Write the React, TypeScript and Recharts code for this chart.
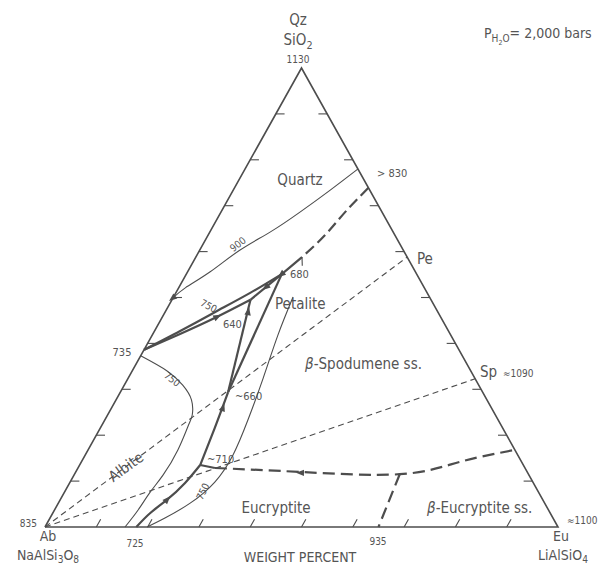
import React from "react";
import { ComposedChart, Line, Scatter, XAxis, YAxis, ReferenceLine } from "recharts";

// every point is a composition in weight percent: [SiO2, LiAlSiO4]; NaAlSi3O8 is the rest
type Comp = [number, number];

const outline: Comp[] = [[0, 0], [0, 100], [100, 0], [0, 0]];
const edgeTicks = [10, 20, 30, 40, 50, 60, 70, 80, 90];

const petaliteJoin: Comp[] = [[0, 0], [58.8, 41.2]];
const spodumeneJoin: Comp[] = [[0, 0], [32.3, 67.7]];

const iso900: Comp[] = [[78, 22], [73.4, 18.9], [68.6, 15.4], [64.3, 11.8], [60.3, 7.8], [55.6, 4.4], [52.1, 1.3], [49.9, 0]];
const qzPeDashed: Comp[] = [[73.9, 26.1], [68.6, 24.2], [63.6, 22.8], [58.8, 20.7]];
const qzPeSolid: Comp[] = [[58.8, 20.7], [55.1, 18.6]];
const qzPeMark: Comp[] = [[58.8, 20.7], [56.9, 21.7]];
const upper735to680: Comp[] = [[38.6, 0], [42.7, 5.0], [46.8, 9.7], [51.0, 14.5], [55.1, 18.6]];
const lower735to640: Comp[] = [[38.6, 0], [42.05, 5.3], [45.75, 10.6], [49.5, 15.3]];
const b640to680: Comp[] = [[49.5, 15.3], [55.1, 18.6]];
const b640to660: Comp[] = [[49.5, 15.3], [29.4, 21]];
const b680to660: Comp[] = [[55.1, 18.6], [29.4, 21]];
const b660to710: Comp[] = [[29.4, 21], [21.6, 22.3], [13.5, 23.5]];
const b710to725: Comp[] = [[13.5, 23.5], [9.6, 22.5], [5.9, 20.8], [3.05, 19.0], [0, 17.8]];
const iso750Albite: Comp[] = [[37.3, 0], [34.0, 6.8], [30.9, 11.4], [27.7, 14.7], [24.4, 16.5], [22.0, 16.9], [16.8, 17.5], [11.3, 17.35], [7.6, 16.7], [3.7, 16.3], [0, 15.6]];
const iso750Petalite: Comp[] = [[50.1, 23.3], [41.8, 24.5], [32.5, 26.3], [23.3, 27.9], [15.7, 28.8], [9.8, 28.2], [5.2, 25.7], [1.96, 22.4], [0, 19.9]];
const b710solid: Comp[] = [[13.5, 23.5], [12.85, 26.7]];
const eucryptiteDashed: Comp[] = [[12.85, 26.7], [12.0, 43.7], [11.5, 63.4], [14.2, 73.8], [16.8, 83.2]];
const eucryptiteSplit: Comp[] = [[11.5, 63.4], [0, 65]];

// arrows: [at, pointing toward]
const arrows: [Comp, Comp][] = [
  [[45.75, 10.6], [49.5, 15.3]],
  [[52.3, 17.0], [49.5, 15.3]],
  [[46.8, 16.2], [49.5, 15.3]],
  [[25.9, 21.7], [29.4, 21]],
  [[5.9, 20.8], [13.5, 23.5]],
  [[11.8, 44.0], [12.0, 30]],
  [[55.1, 18.6], [52.0, 16.8]],
  [[49.9, 0], [48.0, -1.2]],
];

const vertexNames = ["Qz", "Ab", "Eu"];
const fieldNames = ["Quartz", "Petalite", "β-Spodumene ss.", "Eucryptite", "β-Eucryptite ss.", "Albite"];
const temps = ["1130", "> 830", "735", "680", "640", "~660", "~710", "725", "935", "835", "≈1090", "≈1100", "900", "750"];
const pointNames = ["Pe", "Sp"];
const axisTitle = "WEIGHT PERCENT";

const W = 601;
const H = 569;
const AB_X = 45;
const EU_X = 558;
const BASE_Y = 527;
const APEX_Y = 68;
const SX = (EU_X - AB_X) / 100;
const SY = (BASE_Y - APEX_Y) / 100;

const INK = "#4d4d4d";
const TXT = "#555";
const FONT = "'Liberation Sans Narrow', 'DejaVu Sans Condensed', 'Roboto', sans-serif";

const toPt = ([q, e]: Comp) => ({ x: e + q / 2, y: q });

const arrowData = arrows.map(([a, b]) => {
  const pa = toPt(a);
  const pb = toPt(b);
  const ang = (Math.atan2(-(pb.y - pa.y) * SY, (pb.x - pa.x) * SX) * 180) / Math.PI;
  return { ...pa, ang };
});

const TICK = 1.7;
const tickSegs: Comp[][] = [
  ...edgeTicks.map((t) => [[t, 0], [t, TICK]] as Comp[]),
  ...edgeTicks.map((t) => [[0, t], [TICK, t]] as Comp[]),
  ...edgeTicks.map((t) => [[t, 100 - t], [t, 100 - t - TICK]] as Comp[]),
];

const thin = { stroke: INK, strokeWidth: 1.1 };
const thick = { stroke: INK, strokeWidth: 2.2 };

function curve(key: string, pts: Comp[], style: any, dash?: string, kind: any = "linear") {
  return (
    <Line
      key={key}
      data={pts.map(toPt)}
      dataKey="y"
      type={kind}
      dot={false}
      activeDot={false}
      isAnimationActive={false}
      strokeDasharray={dash}
      {...style}
    />
  );
}

const Arrow = (p: any) => (
  <path
    d="M5,0 L-3,-3.2 L-3,3.2 Z"
    fill={INK}
    transform={`translate(${p.cx},${p.cy}) rotate(${p.payload.ang})`}
  />
);

const sub = { fontSize: "0.72em" } as const;

function Labels() {
  const halo = { stroke: "#fff", strokeWidth: 3, paintOrder: "stroke" as const };
  return (
    <g fontFamily={FONT} fill={TXT}>
      <text x={298} y={25} fontSize={15} textAnchor="middle">{vertexNames[0]}</text>
      <text x={298} y={45} fontSize={15} textAnchor="middle">
        SiO<tspan dy={4} style={sub}>2</tspan>
      </text>
      <text x={298} y={63} fontSize={10} textAnchor="middle">{temps[0]}</text>
      <text x={484} y={38} fontSize={14}>
        P<tspan dy={4} style={sub}>H</tspan>
        <tspan dy={3} fontSize={7}>2</tspan>
        <tspan dy={-3} style={sub}>O</tspan>
        <tspan dy={-4}>= 2,000 bars</tspan>
      </text>
      <text x={377} y={177} fontSize={11}>{temps[1]}</text>
      <text x={417} y={264} fontSize={15}>{pointNames[0]}</text>
      <text x={480} y={377} fontSize={15}>{pointNames[1]}</text>
      <text x={503} y={377} fontSize={10}>{temps[10]}</text>
      <text x={567} y={524} fontSize={10}>{temps[11]}</text>
      <text x={37} y={527} fontSize={10} textAnchor="end">{temps[9]}</text>
      <text x={48} y={541} fontSize={14} textAnchor="middle">{vertexNames[1]}</text>
      <text x={48} y={560} fontSize={14} textAnchor="middle">
        NaAlSi<tspan dy={3} style={sub}>3</tspan>
        <tspan dy={-3}>O</tspan>
        <tspan dy={3} style={sub}>8</tspan>
      </text>
      <text x={561} y={541} fontSize={14} textAnchor="middle">{vertexNames[2]}</text>
      <text x={563} y={560} fontSize={14} textAnchor="middle">
        LiAlSiO<tspan dy={3} style={sub}>4</tspan>
      </text>
      <text x={135} y={547} fontSize={10} textAnchor="middle">{temps[7]}</text>
      <text x={378} y={545} fontSize={10} textAnchor="middle">{temps[8]}</text>
      <text x={300} y={562} fontSize={14} textAnchor="middle">{axisTitle}</text>
      <text x={122} y={356} fontSize={11} textAnchor="middle">{temps[2]}</text>
      <text x={290} y={278} fontSize={11} {...halo}>{temps[3]}</text>
      <text x={223} y={328} fontSize={11}>{temps[4]}</text>
      <text x={235} y={400} fontSize={11}>{temps[5]}</text>
      <text x={207} y={463} fontSize={11}>{temps[6]}</text>
      <text fontSize={10} textAnchor="middle" transform="translate(240,247) rotate(-38)" {...halo}>{temps[12]}</text>
      <text fontSize={10} textAnchor="middle" transform="translate(207,309) rotate(28)" {...halo}>{temps[13]}</text>
      <text fontSize={10} textAnchor="middle" transform="translate(170,382) rotate(38)" {...halo}>{temps[13]}</text>
      <text fontSize={10} textAnchor="middle" transform="translate(206,493) rotate(-64)" {...halo}>{temps[13]}</text>
      <text x={300} y={185} fontSize={15} textAnchor="middle">{fieldNames[0]}</text>
      <text x={275} y={309} fontSize={15} {...halo}>{fieldNames[1]}</text>
      <text x={305} y={369} fontSize={15}>
        <tspan fontStyle="italic">β</tspan>-Spodumene ss.
      </text>
      <text x={276} y={513} fontSize={15} textAnchor="middle">{fieldNames[3]}</text>
      <text x={427} y={513} fontSize={15}>
        <tspan fontStyle="italic">β</tspan>-Eucryptite ss.
      </text>
      <text fontSize={15} textAnchor="middle" transform="translate(129,471) rotate(-36)" {...halo}>{fieldNames[5]}</text>
    </g>
  );
}

export default function App() {
  const xDomain = [-AB_X / SX, (W - AB_X) / SX];
  const yDomain = [(BASE_Y - H) / SY, BASE_Y / SY];
  return (
    <div style={{ position: "absolute", left: 0, top: 0, width: W, height: H, background: "#fff" }}>
      <ComposedChart width={W} height={H} margin={{ top: 0, right: 0, bottom: 0, left: 0 }}>
        <XAxis type="number" dataKey="x" domain={xDomain} allowDataOverflow hide />
        <YAxis type="number" dataKey="y" domain={yDomain} allowDataOverflow hide />
        {tickSegs.map((s, i) => (
          <ReferenceLine
            key={"t" + i}
            segment={s.map(toPt)}
            stroke={INK}
            strokeWidth={1.1}
          />
        ))}
        {curve("outline", outline, { stroke: INK, strokeWidth: 1.6 })}
        {curve("pe", petaliteJoin, thin, "6 4")}
        {curve("sp", spodumeneJoin, thin, "6 4")}
        {curve("900", iso900, thin, undefined, "natural")}
        {curve("qpd", qzPeDashed, thick, "11 5", "natural")}
        {curve("qps", qzPeSolid, thick)}
        {curve("qpm", qzPeMark, thin)}
        {curve("u735", upper735to680, thick, undefined, "natural")}
        {curve("l735", lower735to640, thick, undefined, "natural")}
        {curve("640680", b640to680, thick)}
        {curve("640660", b640to660, thick)}
        {curve("680660", b680to660, thick)}
        {curve("660710", b660to710, thick, undefined, "natural")}
        {curve("710725", b710to725, thick, undefined, "natural")}
        {curve("a750", iso750Albite, thin, undefined, "natural")}
        {curve("p750", iso750Petalite, thin, undefined, "natural")}
        {curve("710s", b710solid, thick)}
        {curve("eud", eucryptiteDashed, thick, "12 6", "natural")}
        {curve("eus", eucryptiteSplit, thick, "12 6")}
        <Scatter data={arrowData} dataKey="y" shape={Arrow} isAnimationActive={false} />
        <Labels />
      </ComposedChart>
    </div>
  );
}
